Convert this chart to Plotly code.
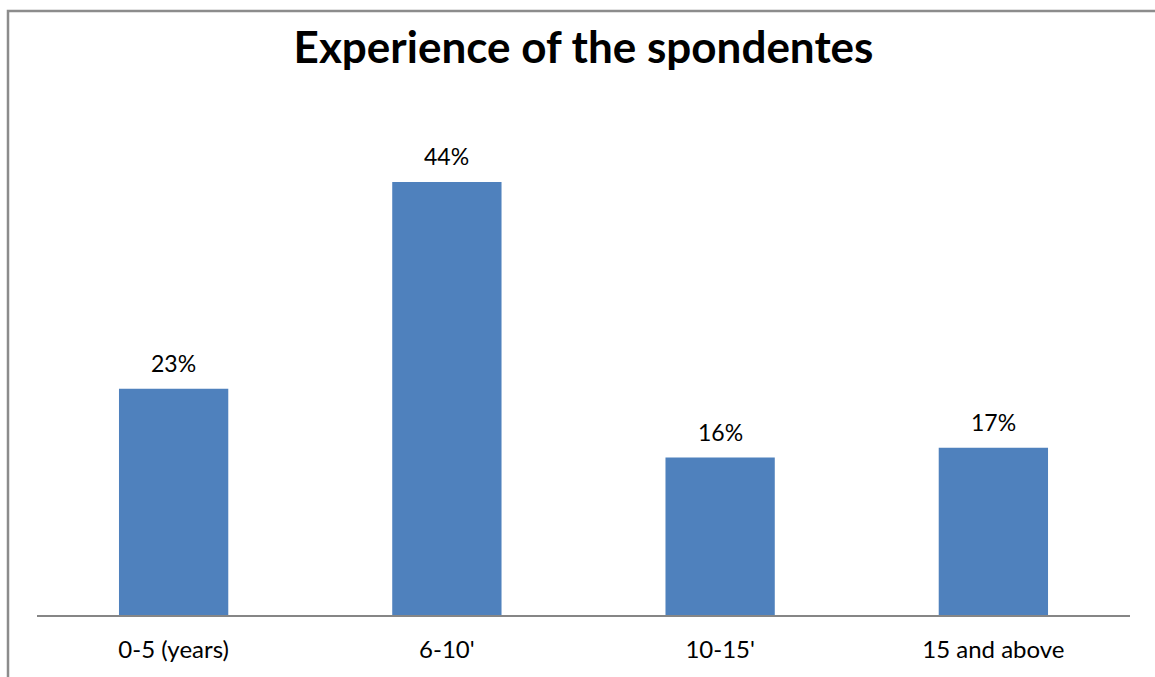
import plotly.graph_objects as go

categories = ["0-5 (years)", "6-10'", "10-15'", "15 and above"]
shares = [23, 44, 16, 17]
labels = [f"{v}%" for v in shares]

W, H = 1155, 677
L, R, T, B = 37, 25, 123, 62
plot_w = W - L - R
plot_h = H - T - B
FONT = "Lato"

fig = go.Figure(
    go.Bar(
        x=categories,
        y=shares,
        marker=dict(color="#4F81BD", line=dict(width=0)),
        width=0.4,
        hoverinfo="x+y",
    )
)

# value labels above each bar
for cat, val, lab in zip(categories, shares, labels):
    fig.add_annotation(
        x=cat, y=val, text=lab, showarrow=False,
        xanchor="center", yanchor="bottom", yshift=10,
        font=dict(family=FONT, size=23, color="#000000"),
    )

# outer chart frame (runs past the right and bottom edges)
def px_x(p):
    return (p - L) / plot_w

def px_y(p):
    return (H - B - p) / plot_h

fig.add_shape(
    type="rect", xref="paper", yref="paper",
    x0=px_x(8), x1=px_x(1170), y0=px_y(11), y1=px_y(700),
    line=dict(color="#8C8C8C", width=2.5), fillcolor="rgba(0,0,0,0)",
    layer="below",
)

fig.update_layout(
    width=W, height=H,
    margin=dict(l=L, r=R, t=T, b=B, pad=0),
    paper_bgcolor="white", plot_bgcolor="white",
    showlegend=False,
    title=dict(
        text="<b>Experience of the spondentes</b>",
        x=(L + plot_w / 2) / W, xanchor="center",
        y=1 - 48 / H, yanchor="middle",
        font=dict(family=FONT, size=44, color="#000000"),
    ),
    xaxis=dict(
        showline=True, linecolor="#868686", linewidth=1.5,
        ticks="", showgrid=False,
        tickfont=dict(family=FONT, size=24, color="#000000"),
        ticklabelstandoff=12,
    ),
    yaxis=dict(range=[0, 50], visible=False, showgrid=False, zeroline=False),
)

fig.write_html("out.html")
